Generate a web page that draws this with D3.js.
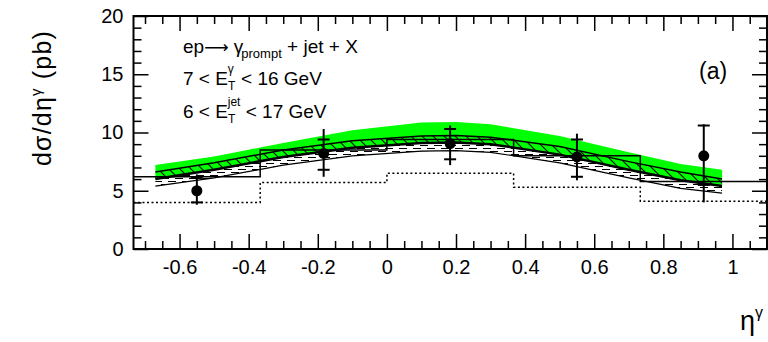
<!DOCTYPE html>
<html>
<head>
<meta charset="utf-8">
<script src="https://cdn.jsdelivr.net/npm/d3@7"></script>
<style>
  body { margin: 0; background: #fff; }
  svg { display: block; font-family: "Liberation Sans", Arial, sans-serif; }
</style>
</head>
<body>
<div id="wrapper"></div>
<script>
// bin edges of the two MC histograms (eta^gamma)
const binEdges = [-0.7333, -0.3667, 0, 0.3667, 0.7333, 1.1]
const histSolid = [6.2, 8.5, 9.4, 8.0, 5.8]
const histDotted = [4.0, 5.7, 6.5, 5.3, 4.1]

// measured points
const etaData = [-0.55, -0.183, 0.183, 0.55, 0.917]
const sigmaData = [5.0, 8.2, 9.05, 7.9, 8.0]
const statLo = [4.0, 6.8, 7.7, 6.2, 5.5]
const statHi = [6.1, 9.4, 10.3, 9.4, 10.6]
const totLo = [3.8, 6.2, 7.2, 5.9, 4.0]
const totHi = [6.4, 10.3, 10.6, 9.9, 10.7]

// theory bands
const bandEta = [-0.67, -0.5, -0.3, -0.1, 0.1, 0.2, 0.3, 0.5, 0.7, 0.85, 0.97]
const greenHi = [7.2, 7.95, 9.1, 10.2, 10.85, 10.9, 10.7, 9.7, 8.3, 7.3, 6.8]
const hatchHi = [6.6, 7.4, 8.5, 9.3, 9.7, 9.75, 9.6, 8.8, 7.5, 6.6, 6.0]
const hatchMid = [6.0, 6.8, 7.9, 8.7, 9.1, 9.15, 9.0, 8.1, 6.8, 5.9, 5.4]
const hatchLo = [5.4, 6.1, 7.2, 8.0, 8.4, 8.45, 8.3, 7.4, 6.1, 5.2, 4.8]

const xTicks = [-0.6, -0.4, -0.2, 0, 0.2, 0.4, 0.6, 0.8, 1]
const yTicks = [0, 5, 10, 15, 20]

function draw() {
    const width = 768, height = 342
    const left = 133.5, right = 767, top = 16, bottom = 249

    const svg = d3.select("#wrapper").append("svg")
        .attr("width", width)
        .attr("height", height)

    const x = d3.scaleLinear().domain([-0.7333, 1.1]).range([left, right])
    const y = d3.scaleLinear().domain([0, 20]).range([bottom, top])

    const defs = svg.append("defs")
    defs.append("clipPath").attr("id", "clip")
        .append("rect").attr("x", left).attr("y", top)
        .attr("width", right - left).attr("height", bottom - top)
    const diag = defs.append("pattern").attr("id", "diag")
        .attr("patternUnits", "userSpaceOnUse").attr("width", 11).attr("height", 11)
    diag.append("path").attr("d", "M0,0 L11,11 M-3,8 L3,14 M8,-3 L14,3")
        .attr("stroke", "#000").attr("stroke-width", 1.1)
    const dash = defs.append("pattern").attr("id", "dash")
        .attr("patternUnits", "userSpaceOnUse").attr("width", 14).attr("height", 6)
    dash.append("rect").attr("width", 14).attr("height", 6).attr("fill", "#fff")
    dash.append("path").attr("d", "M0,1.5 H8 M7,4.5 H15 M-7,4.5 H1")
        .attr("stroke", "#000").attr("stroke-width", 1.1)

    const plot = svg.append("g").attr("clip-path", "url(#clip)")

    const band = (lo, hi) => d3.area()
        .x((d, i) => x(bandEta[i]))
        .y0((d, i) => y(lo[i]))
        .y1((d, i) => y(hi[i]))
    const line = vals => d3.line()
        .x((d, i) => x(bandEta[i]))
        .y((d, i) => y(vals[i]))

    plot.append("path").datum(bandEta)
        .attr("d", band(hatchMid, greenHi))
        .attr("fill", "#00ff00")
    plot.append("path").datum(bandEta)
        .attr("d", band(hatchLo, hatchMid))
        .attr("fill", "url(#dash)")
    plot.append("path").datum(bandEta)
        .attr("d", band(hatchMid, hatchHi))
        .attr("fill", "url(#diag)")
    plot.append("path").datum(bandEta).attr("d", line(hatchHi))
        .attr("fill", "none").attr("stroke", "#000").attr("stroke-width", 1.5)
    plot.append("path").datum(bandEta).attr("d", line(hatchMid))
        .attr("fill", "none").attr("stroke", "#000").attr("stroke-width", 2.5)
    plot.append("path").datum(bandEta).attr("d", line(hatchLo))
        .attr("fill", "none").attr("stroke", "#000").attr("stroke-width", 1.2)

    // step histograms
    const stepPts = vals => {
        const pts = []
        vals.forEach((v, i) => {
            pts.push([binEdges[i], v])
            pts.push([binEdges[i + 1], v])
        })
        return pts
    }
    const stepLine = d3.line().x(d => x(d[0])).y(d => y(d[1]))
    plot.append("path").datum(stepPts(histDotted)).attr("d", stepLine)
        .attr("fill", "none").attr("stroke", "#000").attr("stroke-width", 1.5)
        .attr("stroke-dasharray", "2,2.5")
    plot.append("path").datum(stepPts(histSolid)).attr("d", stepLine)
        .attr("fill", "none").attr("stroke", "#000").attr("stroke-width", 1.5)

    // data points
    const pts = svg.append("g")
    etaData.forEach((e, i) => {
        const cx = x(e)
        pts.append("line").attr("x1", cx).attr("x2", cx)
            .attr("y1", y(totLo[i])).attr("y2", y(totHi[i]))
            .attr("stroke", "#000").attr("stroke-width", 2)
        ;[statLo[i], statHi[i]].forEach(v => {
            pts.append("line").attr("x1", cx - 6).attr("x2", cx + 6)
                .attr("y1", y(v)).attr("y2", y(v))
                .attr("stroke", "#000").attr("stroke-width", 2)
        })
        pts.append("circle").attr("cx", cx).attr("cy", y(sigmaData[i]))
            .attr("r", 5.5).attr("fill", "#000")
    })

    // axes with inward ticks
    const minorX = d3.range(-0.7, 1.1, 0.05).map(v => +v.toFixed(2))
        .filter(v => !xTicks.some(t => Math.abs(t - v) < 1e-6))
    const minorY = d3.range(1, 20, 1).filter(v => v % 5 !== 0)
    const fmtX = d => String(+d.toFixed(1))

    const axes = [
        [d3.axisBottom, bottom, true], [d3.axisTop, top, false]
    ]
    axes.forEach(([ax, pos, labels]) => {
        const g = svg.append("g").attr("transform", "translate(0," + pos + ")")
        g.call(ax(x).tickValues(xTicks).tickSize(-15).tickSizeOuter(0)
            .tickPadding(11).tickFormat(labels ? fmtX : ""))
        g.append("g").call(ax(x).tickValues(minorX).tickSize(-8).tickSizeOuter(0).tickFormat(""))
        g.selectAll(".domain").remove()
    })
    const yAxes = [
        [d3.axisLeft, left, true], [d3.axisRight, right, false]
    ]
    yAxes.forEach(([ax, pos, labels]) => {
        const g = svg.append("g").attr("transform", "translate(" + pos + ",0)")
        g.call(ax(y).tickValues(yTicks).tickSize(-15).tickSizeOuter(0)
            .tickPadding(10).tickFormat(labels ? d3.format("d") : ""))
        g.append("g").call(ax(y).tickValues(minorY).tickSize(-8).tickSizeOuter(0).tickFormat(""))
        g.selectAll(".domain").remove()
    })
    svg.selectAll(".tick line").attr("stroke-width", 1.5)
    svg.selectAll(".tick text").attr("font-size", 20).attr("fill", "#000")
        .attr("font-family", "Liberation Sans, Arial, sans-serif")

    svg.append("rect").attr("x", left).attr("y", top)
        .attr("width", right - left).attr("height", bottom - top)
        .attr("fill", "none").attr("stroke", "#000").attr("stroke-width", 2)

    // axis titles
    const yt = svg.append("text")
        .attr("transform", "translate(51,98) rotate(-90)")
        .attr("text-anchor", "middle").attr("font-size", 25)
        .attr("letter-spacing", 1.2)
    yt.append("tspan").text("dσ/dη")
    yt.append("tspan").attr("font-size", 15).attr("dy", -10).text("γ")
    yt.append("tspan").attr("dy", 10).text(" (pb)")

    const xt = svg.append("text").attr("x", 740).attr("y", 330).attr("font-size", 27)
    xt.append("tspan").text("η")
    xt.append("tspan").attr("font-size", 16).attr("dy", -12).text("γ")

    svg.append("text").attr("x", 699).attr("y", 79).attr("font-size", 23).text("(a)")

    // process labels
    const fs = 19
    const t1 = svg.append("text").attr("x", 183).attr("y", 53).attr("font-size", fs)
    t1.append("tspan").text("ep")
    t1.append("tspan").attr("font-family", "DejaVu Sans").attr("font-size", 17).text("⟶")
    t1.append("tspan").text(" γ")
    t1.append("tspan").attr("font-size", 13).attr("dy", 5).attr("dx", -2).text("prompt")
    t1.append("tspan").attr("dy", -5).text(" + jet + X")

    const t2 = svg.append("text").attr("x", 183).attr("y", 85).attr("font-size", fs)
    t2.append("tspan").text("7 < E")
    t2.append("tspan").attr("font-size", 12).attr("dy", 5).text("T")
    t2.append("tspan").attr("font-size", 12).attr("dx", -7.5).attr("dy", -17).text("γ")
    t2.append("tspan").attr("dx", 2).attr("dy", 12).text(" < 16 GeV")

    const t3 = svg.append("text").attr("x", 183).attr("y", 118).attr("font-size", fs)
    t3.append("tspan").text("6 < E")
    t3.append("tspan").attr("font-size", 12).attr("dy", 5).text("T")
    t3.append("tspan").attr("font-size", 12).attr("dx", -7.5).attr("dy", -17).text("jet")
    t3.append("tspan").attr("dy", 12).text(" < 17 GeV")
}
draw()
</script>
</body>
</html>
